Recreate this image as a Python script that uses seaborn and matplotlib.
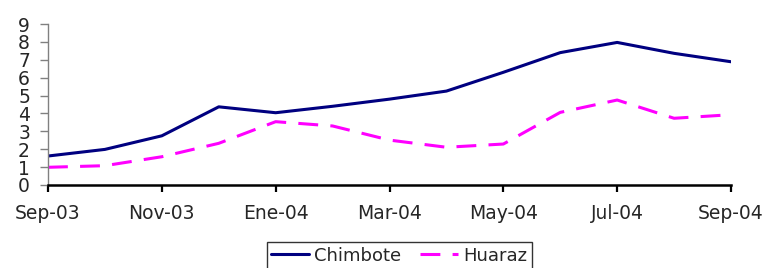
import matplotlib
matplotlib.use("Agg")
import matplotlib.pyplot as plt
import seaborn as sns
import pandas as pd
from matplotlib.lines import Line2D

months = ["Sep-03", "Oct-03", "Nov-03", "Dic-03", "Ene-04", "Feb-04", "Mar-04",
          "Abr-04", "May-04", "Jun-04", "Jul-04", "Ago-04", "Sep-04"]
chimbote = [1.62, 1.99, 2.75, 4.37, 4.04, 4.40, 4.80, 5.25, 6.30, 7.40, 7.97, 7.36, 6.89]
huaraz = [0.99, 1.08, 1.58, 2.33, 3.54, 3.30, 2.51, 2.11, 2.29, 4.06, 4.75, 3.73, 3.93]
tick_labels = ["Sep-03", "Nov-03", "Ene-04", "Mar-04", "May-04", "Jul-04", "Sep-04"]
y_ticks = list(range(0, 10))

sns.set_style("white")
plt.rcParams["font.family"] = ["DejaVu Sans"]

df = pd.DataFrame({
    "idx": list(range(len(months))) * 2,
    "value": chimbote + huaraz,
    "city": ["Chimbote"] * len(months) + ["Huaraz"] * len(months),
})

fig = plt.figure(figsize=(7.66, 2.68), dpi=100)
ax = fig.add_axes([48 / 766, 1 - 185 / 268, (731 - 48) / 766, (185 - 24) / 268])

sns.lineplot(data=df, x="idx", y="value", hue="city", style="city",
             palette={"Chimbote": "#000080", "Huaraz": "#FF00FF"},
             dashes={"Chimbote": "", "Huaraz": (6.5, 4)},
             linewidth=2.2, ax=ax, legend=False)

ax.set_xlim(0, len(months) - 1)
ax.set_ylim(0, 9)
ax.set_xticks([months.index(t) for t in tick_labels])
ax.set_xticklabels(tick_labels, fontsize=13.5)
ax.set_yticks(y_ticks)
ax.set_yticklabels([str(v) for v in y_ticks], fontsize=13.5)
ax.set_xlabel("")
ax.set_ylabel("")

for s in ["top", "right"]:
    ax.spines[s].set_visible(False)
ax.spines["left"].set_color("#808080")
ax.spines["left"].set_linewidth(1.0)
ax.spines["bottom"].set_color("black")
ax.spines["bottom"].set_linewidth(1.8)
ax.tick_params(axis="y", direction="out", length=6, width=1.0, color="#808080",
               pad=7, left=True)
ax.tick_params(axis="x", direction="out", length=5, width=1.6, color="black",
               pad=9, bottom=True)

handles = [Line2D([], [], color="#000080", lw=2.2),
           Line2D([], [], color="#FF00FF", lw=2.2, dashes=(6.5, 4))]
leg = fig.legend(handles, ["Chimbote", "Huaraz"], loc="upper center",
                 bbox_to_anchor=(0.521, 1 - 242 / 268), ncol=2, fontsize=13,
                 frameon=True, fancybox=False, handlelength=2.1,
                 handletextpad=0.3, columnspacing=1.0, borderpad=0.25,
                 borderaxespad=0)
leg.get_frame().set_edgecolor("black")
leg.get_frame().set_linewidth(1.0)

fig.savefig("out.png", dpi=100)
